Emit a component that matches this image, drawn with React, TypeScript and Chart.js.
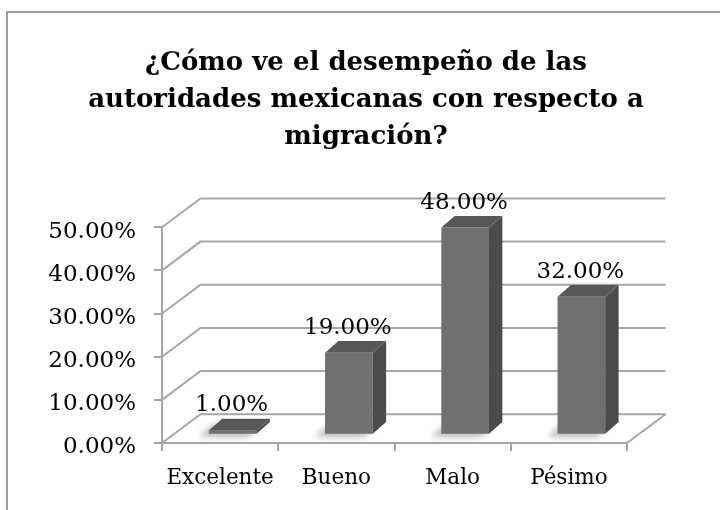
import React, { useEffect, useRef } from 'react';
import { Chart, registerables } from 'chart.js';

Chart.register(...registerables);

const categories = ['Excelente', 'Bueno', 'Malo', 'Pésimo'];
const values = [1, 19, 48, 32];
const yTicks = [0, 10, 20, 30, 40, 50];
const titleLines = ['¿Cómo ve el desempeño de las', 'autoridades mexicanas con respecto a', 'migración?'];

const GRID = '#a6a6a6';
const FONT = "'DejaVu Serif', serif";
const WALL_DX = 38.5;
const WALL_DY = -28.8;
const BAR_SHIFT_X = 12.5;
const BAR_SHIFT_Y = -8.3;
const BAR_DX = 13.4;
const BAR_DY = -11.6;

const threeD = {
  id: 'threeD',
  beforeDraw(chart: any) {
    const ctx = chart.ctx;
    ctx.save();
    ctx.strokeStyle = '#9d9d9d';
    ctx.lineWidth = 2;
    ctx.strokeRect(7, 12, 800, 600);
    ctx.restore();
  },
  beforeDatasetsDraw(chart: any) {
    const { ctx, chartArea: a } = chart;
    const y = chart.scales.y;
    ctx.save();
    ctx.strokeStyle = GRID;
    ctx.lineWidth = 2;
    const backL = a.left + WALL_DX;
    const backR = a.right + WALL_DX;
    yTicks.forEach((v) => {
      const yf = y.getPixelForValue(v);
      const yb = yf + WALL_DY;
      ctx.beginPath();
      ctx.moveTo(a.left, yf);
      ctx.lineTo(backL, yb);
      ctx.lineTo(backR, yb);
      ctx.stroke();
    });
    const y0 = y.getPixelForValue(0);
    ctx.beginPath();
    ctx.moveTo(a.right, y0);
    ctx.lineTo(backR, y0 + WALL_DY);
    ctx.stroke();
    ctx.restore();

    ctx.save();
    ctx.translate(BAR_SHIFT_X, BAR_SHIFT_Y);
    const meta = chart.getDatasetMeta(0);
    meta.data.forEach((bar: any) => {
      const { x, base, width } = bar.getProps(['x', 'base', 'width'], true);
      const l = x - width / 2;
      const r = x + width / 2;
      ctx.save();
      ctx.filter = 'blur(3px)';
      ctx.fillStyle = 'rgba(0,0,0,0.28)';
      ctx.beginPath();
      ctx.moveTo(l - 10, base + 3);
      ctx.lineTo(r - 8, base + 3);
      ctx.lineTo(r - 8 + BAR_DX, base + 3 + BAR_DY);
      ctx.lineTo(l - 10 + BAR_DX, base + 3 + BAR_DY);
      ctx.closePath();
      ctx.fill();
      ctx.restore();
    });
  },
  afterDatasetsDraw(chart: any) {
    const { ctx } = chart;
    const meta = chart.getDatasetMeta(0);
    meta.data.forEach((bar: any, i: number) => {
      const { x, y, base, width } = bar.getProps(['x', 'y', 'base', 'width'], true);
      const l = x - width / 2;
      const r = x + width / 2;
      ctx.fillStyle = '#4b4b4b';
      ctx.beginPath();
      ctx.moveTo(r, y);
      ctx.lineTo(r + BAR_DX, y + BAR_DY);
      ctx.lineTo(r + BAR_DX, base + BAR_DY);
      ctx.lineTo(r, base);
      ctx.closePath();
      ctx.fill();
      ctx.fillStyle = '#575757';
      ctx.beginPath();
      ctx.moveTo(l, y);
      ctx.lineTo(l + BAR_DX, y + BAR_DY);
      ctx.lineTo(r + BAR_DX, y + BAR_DY);
      ctx.lineTo(r, y);
      ctx.closePath();
      ctx.fill();
      ctx.fillStyle = '#000';
      ctx.font = `23px ${FONT}`;
      ctx.textAlign = 'center';
      ctx.textBaseline = 'alphabetic';
      ctx.fillText(values[i].toFixed(2) + '%', x - 1, y - 19);
    });
    ctx.restore();
  },
};

export default function App() {
  const ref = useRef<HTMLCanvasElement>(null);
  useEffect(() => {
    document.body.style.margin = '0';
    const chart = new Chart(ref.current as HTMLCanvasElement, {
      type: 'bar',
      data: {
        labels: categories,
        datasets: [
          {
            data: values,
            backgroundColor: '#707070',
            borderWidth: 0,
            barPercentage: 0.41,
            categoryPercentage: 1,
            clip: false as any,
          },
        ],
      },
      options: {
        responsive: false,
        animation: false,
        layout: { padding: { left: 12, right: 0, top: 0, bottom: 0 } },
        plugins: {
          legend: { display: false },
          tooltip: { enabled: false },
          title: {
            display: true,
            text: titleLines,
            color: '#000',
            font: { family: FONT, size: 26, weight: 'bold', lineHeight: 1.42 },
            padding: { top: 44.5, bottom: 72 },
          },
        },
        scales: {
          x: {
            type: 'category',
            position: 'bottom',
            offset: true,
            grid: { display: true, drawOnChartArea: false, drawTicks: true, tickLength: 8, color: GRID, lineWidth: 2, offset: true },
            border: { display: true, color: GRID, width: 2 },
            ticks: { color: '#000', font: { family: FONT, size: 21.5 }, padding: 14.6, maxRotation: 0, autoSkip: false },
            afterFit: (s: any) => { s.height = 67; },
          },
          y: {
            type: 'linear',
            position: 'left',
            min: 0,
            max: 50,
            grid: { drawOnChartArea: false, drawTicks: true, tickLength: 8, color: GRID, lineWidth: 2 },
            border: { display: true, color: GRID, width: 2 },
            ticks: {
              stepSize: 10,
              color: '#000',
              font: { family: FONT, size: 23 },
              padding: 18,
              labelOffset: 4.5,
              callback: (v: any) => Number(v).toFixed(2) + '%',
            },
            afterFit: (s: any) => { s.width = 150; },
          },
          spacer: {
            type: 'linear',
            position: 'right',
            display: true,
            grid: { display: false },
            border: { display: false },
            ticks: { display: false },
            afterFit: (s: any) => { s.width = 93; },
          },
        },
      } as any,
      plugins: [threeD],
    });
    return () => chart.destroy();
  }, []);
  return (
    <div style={{ width: 720, height: 510, position: 'relative' }}>
      <canvas ref={ref} width={720} height={510} style={{ width: 720, height: 510, display: 'block' }} />
    </div>
  );
}
